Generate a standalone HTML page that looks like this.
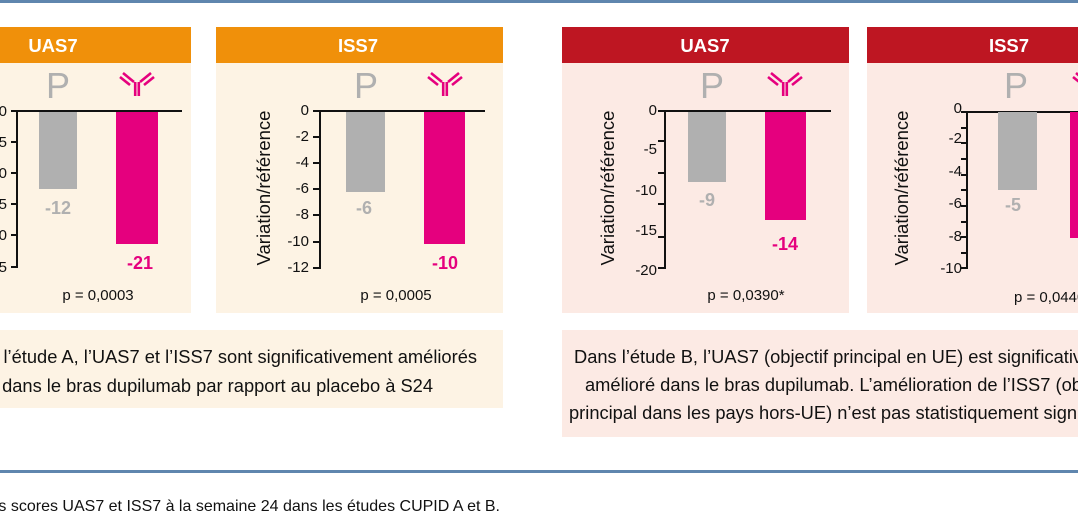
<!DOCTYPE html>
<html><head><meta charset="utf-8"><style>
html,body{margin:0;padding:0;background:#fff;width:1078px;height:516px;overflow:hidden}
svg{display:block;font-family:"Liberation Sans",sans-serif}
</style></head><body>
<svg width="1078" height="516" viewBox="0 0 1078 516" xmlns="http://www.w3.org/2000/svg">
<defs>
<g id="ab" fill="none" stroke="#E5007E" stroke-width="2.6" stroke-linecap="butt">
  <line x1="-1.8" y1="10" x2="-1.8" y2="24"/>
  <line x1="1.8" y1="10" x2="1.8" y2="24"/>
  <line x1="-3" y1="10" x2="-14" y2="1"/>
  <line x1="-7" y1="13" x2="-17" y2="5"/>
  <line x1="3" y1="10" x2="14" y2="1"/>
  <line x1="7" y1="13" x2="17" y2="5"/>
</g>
</defs>
<rect x="0" y="0" width="1078" height="3" fill="#5F86AE"/>
<rect x="0" y="470" width="1078" height="3" fill="#5F86AE"/>

<!-- Panel 1 -->
<rect x="-100" y="27" width="291" height="286" fill="#FDF3E4"/>
<rect x="-100" y="27" width="291" height="36" fill="#F0900A"/>
<text x="53" y="52" fill="#fff" font-weight="bold" font-size="18.5" text-anchor="middle">UAS7</text>
<text x="58" y="98" fill="#B0B0B0" font-size="36" text-anchor="middle">P</text>
<use href="#ab" x="137" y="72"/>
<g stroke="#111" stroke-width="2" fill="none">
<line x1="17" y1="110" x2="17" y2="268"/>
<line x1="17" y1="111" x2="182" y2="111"/>
<line x1="11" y1="111" x2="17" y2="111"/><line x1="11" y1="142" x2="17" y2="142"/><line x1="11" y1="173" x2="17" y2="173"/><line x1="11" y1="204" x2="17" y2="204"/><line x1="11" y1="235" x2="17" y2="235"/><line x1="11" y1="267" x2="17" y2="267"/>
</g>
<g font-size="15" fill="#111" text-anchor="end">
<text x="7" y="116">0</text><text x="7" y="147">-5</text><text x="7" y="178">-10</text><text x="7" y="209">-15</text><text x="7" y="240">-20</text><text x="7" y="272">-25</text>
</g>
<rect x="39" y="112" width="38" height="77" fill="#B0B0B0"/>
<rect x="116" y="112" width="42" height="132" fill="#E5007E"/>
<text x="58" y="214" fill="#B0B0B0" font-weight="bold" font-size="18" text-anchor="middle">-12</text>
<text x="140" y="269" fill="#E5007E" font-weight="bold" font-size="18" text-anchor="middle">-21</text>
<text x="98" y="300" fill="#111" font-size="15" text-anchor="middle">p = 0,0003</text>

<!-- Panel 2 -->
<rect x="216" y="27" width="287" height="286" fill="#FDF3E4"/>
<rect x="216" y="27" width="287" height="36" fill="#F0900A"/>
<text x="358" y="52" fill="#fff" font-weight="bold" font-size="18.5" text-anchor="middle">ISS7</text>
<text x="366" y="98" fill="#B0B0B0" font-size="36" text-anchor="middle">P</text>
<use href="#ab" x="445" y="72"/>
<text transform="translate(270,188) rotate(-90)" font-size="18.5" fill="#111" text-anchor="middle">Variation/référence</text>
<g stroke="#111" stroke-width="2" fill="none">
<line x1="320" y1="110" x2="320" y2="269"/>
<line x1="320" y1="111" x2="485" y2="111"/>
<line x1="313" y1="111" x2="320" y2="111"/><line x1="313" y1="137" x2="320" y2="137"/><line x1="313" y1="163" x2="320" y2="163"/><line x1="313" y1="189" x2="320" y2="189"/><line x1="313" y1="215" x2="320" y2="215"/><line x1="313" y1="242" x2="320" y2="242"/><line x1="313" y1="268" x2="320" y2="268"/>
</g>
<g font-size="15" fill="#111" text-anchor="end">
<text x="309" y="115">0</text><text x="309" y="141">-2</text><text x="309" y="167">-4</text><text x="309" y="193">-6</text><text x="309" y="219">-8</text><text x="309" y="246">-10</text><text x="309" y="272">-12</text>
</g>
<rect x="346" y="112" width="39" height="80" fill="#B0B0B0"/>
<rect x="424" y="112" width="41" height="132" fill="#E5007E"/>
<text x="364" y="214" fill="#B0B0B0" font-weight="bold" font-size="18" text-anchor="middle">-6</text>
<text x="445" y="269" fill="#E5007E" font-weight="bold" font-size="18" text-anchor="middle">-10</text>
<text x="396" y="300" fill="#111" font-size="15" text-anchor="middle">p = 0,0005</text>

<!-- Panel 3 -->
<rect x="562" y="27" width="287" height="286" fill="#FCEAE4"/>
<rect x="562" y="27" width="287" height="36" fill="#BE1622"/>
<text x="705" y="52" fill="#fff" font-weight="bold" font-size="18.5" text-anchor="middle">UAS7</text>
<text x="712" y="98" fill="#B0B0B0" font-size="36" text-anchor="middle">P</text>
<use href="#ab" x="785" y="72"/>
<text transform="translate(614,188) rotate(-90)" font-size="18.5" fill="#111" text-anchor="middle">Variation/référence</text>
<g stroke="#111" stroke-width="2" fill="none">
<line x1="665" y1="110" x2="665" y2="269"/>
<line x1="665" y1="111" x2="831" y2="111"/>
<line x1="658" y1="111" x2="665" y2="111"/><line x1="658" y1="141" x2="665" y2="141"/><line x1="658" y1="173" x2="665" y2="173"/><line x1="658" y1="204" x2="665" y2="204"/><line x1="658" y1="237" x2="665" y2="237"/><line x1="658" y1="268" x2="665" y2="268"/>
</g>
<g font-size="15" fill="#111" text-anchor="end">
<text x="657" y="115">0</text><text x="657" y="154">-5</text><text x="657" y="195">-10</text><text x="657" y="235">-15</text><text x="657" y="275">-20</text>
</g>
<rect x="688" y="112" width="38" height="70" fill="#B0B0B0"/>
<rect x="765" y="112" width="41" height="108" fill="#E5007E"/>
<text x="707" y="206" fill="#B0B0B0" font-weight="bold" font-size="18" text-anchor="middle">-9</text>
<text x="785" y="250" fill="#E5007E" font-weight="bold" font-size="18" text-anchor="middle">-14</text>
<text x="746" y="300" fill="#111" font-size="15" text-anchor="middle">p = 0,0390*</text>

<!-- Panel 4 -->
<rect x="867" y="27" width="300" height="286" fill="#FCEAE4"/>
<rect x="867" y="27" width="300" height="36" fill="#BE1622"/>
<text x="1009" y="52" fill="#fff" font-weight="bold" font-size="18.5" text-anchor="middle">ISS7</text>
<text x="1016" y="98" fill="#B0B0B0" font-size="36" text-anchor="middle">P</text>
<use href="#ab" x="1090" y="72"/>
<text transform="translate(908,188) rotate(-90)" font-size="18.5" fill="#111" text-anchor="middle">Variation/référence</text>
<g stroke="#111" stroke-width="2" fill="none">
<line x1="967" y1="111" x2="967" y2="269"/>
<line x1="967" y1="112" x2="1078" y2="112"/>
<line x1="961" y1="112" x2="967" y2="112"/><line x1="961" y1="128" x2="967" y2="128"/><line x1="961" y1="143" x2="967" y2="143"/><line x1="961" y1="159" x2="967" y2="159"/><line x1="961" y1="175" x2="967" y2="175"/><line x1="961" y1="190" x2="967" y2="190"/><line x1="961" y1="206" x2="967" y2="206"/><line x1="961" y1="222" x2="967" y2="222"/><line x1="961" y1="237" x2="967" y2="237"/><line x1="961" y1="253" x2="967" y2="253"/><line x1="961" y1="268" x2="967" y2="268"/>
</g>
<g font-size="15" fill="#111" text-anchor="end">
<text x="962" y="113">0</text><text x="962" y="143">-2</text><text x="962" y="176">-4</text><text x="962" y="208">-6</text><text x="962" y="241">-8</text><text x="962" y="273">-10</text>
</g>
<rect x="998" y="112" width="39" height="78" fill="#B0B0B0"/>
<rect x="1070" y="112" width="41" height="126" fill="#E5007E"/>
<text x="1013" y="211" fill="#B0B0B0" font-weight="bold" font-size="18" text-anchor="middle">-5</text>
<text x="1014" y="302" fill="#111" font-size="15">p = 0,0440</text>

<!-- Text boxes -->
<rect x="-100" y="330" width="603" height="78" fill="#FDF3E4"/>
<g font-size="18.3" fill="#111" text-anchor="end">
<text x="477" y="363">Dans l’étude A, l’UAS7 et l’ISS7 sont significativement améliorés</text>
<text x="433" y="392">dans le bras dupilumab par rapport au placebo à S24</text>
</g>
<rect x="562" y="330" width="600" height="107" fill="#FCEAE4"/>
<g font-size="18.3" fill="#111">
<text x="574" y="363">Dans l’étude B, l’UAS7 (objectif principal en UE) est significativement</text>
<text x="585" y="391">amélioré dans le bras dupilumab. L’amélioration de l’ISS7 (objectif</text>
<text x="569" y="419">principal dans les pays hors-UE) n’est pas statistiquement significative</text>
</g>
<text x="500" y="511" font-size="16" fill="#111" text-anchor="end">Figure 2. Évolution des scores UAS7 et ISS7 à la semaine 24 dans les études CUPID A et B.</text>
</svg>
</body></html>
